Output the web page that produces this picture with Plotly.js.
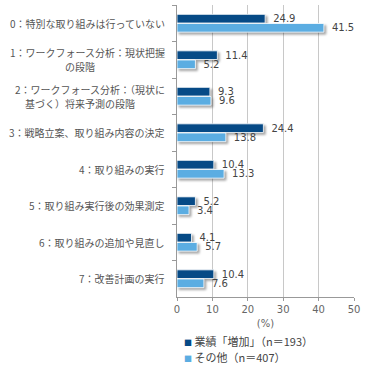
<!DOCTYPE html>
<html><head><meta charset="utf-8">
<script src="https://cdn.plot.ly/plotly-3.0.1.min.js"></script>
<style>
body{margin:0;background:#fff}
#chart{width:372px;height:368px}
.barlayer .point path{filter:drop-shadow(2px 2px 1px rgba(0,0,0,0.35));}
</style>
</head><body>
<div id="chart"></div>
<script>
const categories = [
  "0：特別な取り組みは行っていない",
  "1：ワークフォース分析：現状把握<br>の段階",
  "2：ワークフォース分析：（現状に<br>基づく）将来予測の段階",
  "3：戦略立案、取り組み内容の決定",
  "4：取り組みの実行",
  "5：取り組み実行後の効果測定",
  "6：取り組みの追加や見直し",
  "7：改善計画の実行"
];
const seriesNames = ["業績「増加」（n＝193）", "その他（n＝407）"];
const increaseValues = [24.9, 11.4, 9.3, 24.4, 10.4, 5.2, 4.1, 10.4];
const otherValues = [41.5, 5.2, 9.6, 13.8, 13.3, 3.4, 5.7, 7.6];
const xTicks = [0, 10, 20, 30, 40, 50];
const xTitle = "(%)";
const colors = ['#064a86', '#5badE2'];

const fontFam = '"Noto Sans CJK JP", "Noto Sans", sans-serif';
const numFam = '"DejaVu Sans", Verdana, sans-serif';
const ids = categories.map((c, i) => "c" + i);

function tr(vals, name, color) {
  return {
    type: 'bar', orientation: 'h', x: vals, y: ids, name: name,
    marker: {color: color, line: {color: 'rgba(255,255,255,0.8)', width: 1}},
    text: vals.map(v => '\u2002' + v.toFixed(1)), textposition: 'outside', constraintext: 'none',
    textfont: {family: numFam, size: 10, color: '#444'},
    cliponaxis: false, hoverinfo: 'none', showlegend: false
  };
}
const data = [tr(increaseValues, seriesNames[0], colors[0]), tr(otherValues, seriesNames[1], colors[1])];

const labelFont = {family: fontFam, size: 10, color: '#555'};
const annotations = [];
categories.forEach((c, i) => {
  const lines = c.split('<br>');
  if (lines.length === 1) {
    annotations.push({xref: 'paper', yref: 'y', x: -0.056, y: ids[i], xanchor: 'right', yanchor: 'middle',
      text: c, showarrow: false, font: labelFont});
  } else {
    annotations.push({xref: 'paper', yref: 'y', x: -0.056, y: ids[i], xanchor: 'right', yanchor: 'middle',
      text: lines[0], showarrow: false, yshift: 7, font: labelFont});
    annotations.push({xref: 'paper', yref: 'y', x: -0.548, y: ids[i], xanchor: 'center', yanchor: 'middle',
      text: lines[1], showarrow: false, yshift: -7, font: labelFont});
  }
});
seriesNames.forEach((n, i) => {
  annotations.push({
    xref: 'paper', yref: 'paper', x: 0.03, y: -0.15 - i * 0.055, xanchor: 'left', yanchor: 'middle',
    showarrow: false, align: 'left',
    text: '<span style="color:' + colors[i] + ';font-size:8px">■</span> ' + n,
    font: {family: fontFam, size: 11, color: '#444'}
  });
});

const layout = {
  width: 372, height: 368,
  margin: {l: 177, r: 18, t: 5, b: 71},
  paper_bgcolor: '#fff', plot_bgcolor: '#fff',
  barmode: 'group', bargap: 0.5, bargroupgap: 0.05,
  showlegend: false,
  xaxis: {range: [0, 50], tickvals: xTicks, ticktext: xTicks.map(String),
    showgrid: true, gridcolor: '#c8c8c8', gridwidth: 1, zeroline: false,
    showline: true, linecolor: '#999', ticks: 'outside', ticklen: 3, tickcolor: '#999',
    tickfont: {family: numFam, size: 10, color: '#666'},
    title: {text: xTitle, font: {family: numFam, size: 10, color: '#666'}, standoff: 5},
    fixedrange: true},
  yaxis: {type: 'category', autorange: 'reversed', showticklabels: false,
    showline: true, linecolor: '#999', ticks: 'outside', ticklen: 4, tickcolor: '#999',
    tickson: 'boundaries', showgrid: false, zeroline: false, fixedrange: true},
  annotations: annotations,
  font: {family: fontFam}
};
Plotly.newPlot('chart', data, layout, {displayModeBar: false, staticPlot: true});
</script>
</body></html>
